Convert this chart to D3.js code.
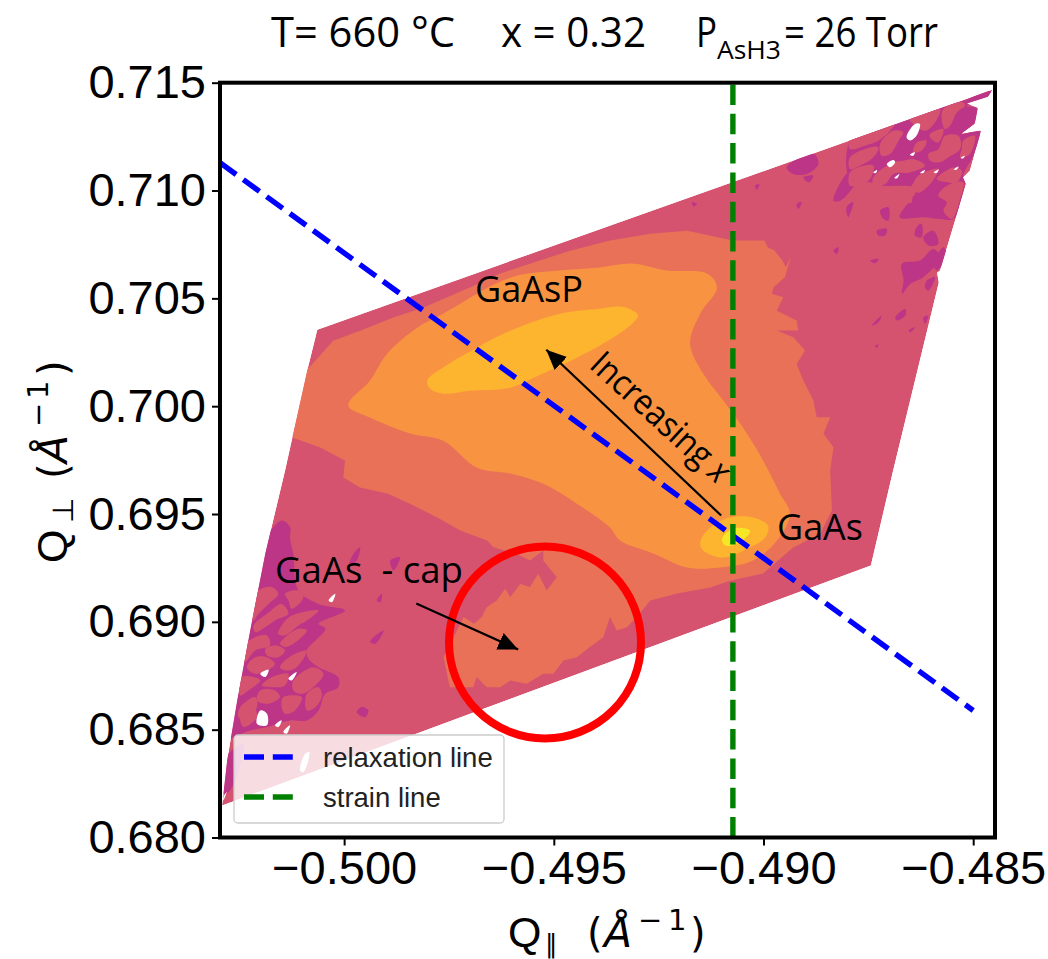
<!DOCTYPE html>
<html>
<head>
<meta charset="utf-8">
<script src="https://cdn.jsdelivr.net/npm/d3@7"></script>
<style>
  body { margin: 0; background: #fff; }
  text { white-space: pre; }
</style>
</head>
<body>
<div id="chart"></div>
<script>
// tick values
const xTicks = [-0.5, -0.495, -0.49, -0.485];
const yTicks = [0.68, 0.685, 0.69, 0.695, 0.7, 0.705, 0.71, 0.715];

// reference lines, [Q_par, Q_perp]
const relaxationLine = [[-0.50296, 0.71129], [-0.485, 0.68589]];
const strainLine = [[-0.49073, 0.68], [-0.49073, 0.715]];

// measured footprint of the map
const footprint = [[-0.50064,0.70355],[-0.48453,0.71468],[-0.48465,0.71435],[-0.48515,0.71403],[-0.48489,0.71384],[-0.48496,0.7131],[-0.48527,0.71264],[-0.48481,0.71278],[-0.48508,0.71092],[-0.48524,0.7106],[-0.48517,0.71032],[-0.48579,0.70629],[-0.48586,0.70619],[-0.48582,0.70573],[-0.48691,0.69701],[-0.48744,0.69261],[-0.50291,0.68148],[-0.50279,0.68357],[-0.50255,0.68635],[-0.50224,0.6896],[-0.50188,0.69317],[-0.50141,0.69701],[-0.50088,0.70165]];

// contour levels, low to high
const level2 = [[-0.50086,0.70174],[-0.50026,0.70304],[-0.49962,0.7035],[-0.49883,0.70411],[-0.49812,0.70457],[-0.497,0.7055],[-0.49628,0.70615],[-0.49557,0.70661],[-0.49461,0.70721],[-0.49366,0.70768],[-0.4927,0.708],[-0.49182,0.70814],[-0.49073,0.70768],[-0.49008,0.70768],[-0.48998,0.70768],[-0.4899,0.70737],[-0.48974,0.70722],[-0.48955,0.70675],[-0.48947,0.70644],[-0.48935,0.70691],[-0.48949,0.70598],[-0.48976,0.70552],[-0.4898,0.70521],[-0.48953,0.70505],[-0.48968,0.70443],[-0.48921,0.70397],[-0.48917,0.70351],[-0.48968,0.70351],[-0.48929,0.7032],[-0.48901,0.70258],[-0.48921,0.70196],[-0.48905,0.70119],[-0.48881,0.70026],[-0.48873,0.69949],[-0.48841,0.69949],[-0.48857,0.69872],[-0.48833,0.6981],[-0.48841,0.69702],[-0.48837,0.69516],[-0.48865,0.69409],[-0.4893,0.69344],[-0.49001,0.69224],[-0.4908,0.69191],[-0.49127,0.69159],[-0.49206,0.69131],[-0.4927,0.69099],[-0.49302,0.69022],[-0.49326,0.68975],[-0.4935,0.6896],[-0.49366,0.69022],[-0.49382,0.68929],[-0.49414,0.68883],[-0.49445,0.68836],[-0.49477,0.68821],[-0.49501,0.68759],[-0.49525,0.68759],[-0.49565,0.68713],[-0.49604,0.68728],[-0.49628,0.68697],[-0.4966,0.68697],[-0.49684,0.68744],[-0.49692,0.68697],[-0.49748,0.68697],[-0.49763,0.68836],[-0.49751,0.68883],[-0.49715,0.69022],[-0.4969,0.68991],[-0.49672,0.69022],[-0.4966,0.69068],[-0.49636,0.69099],[-0.49616,0.69153],[-0.49604,0.69114],[-0.4958,0.69176],[-0.49557,0.69161],[-0.49537,0.69223],[-0.49517,0.69145],[-0.49493,0.69207],[-0.49525,0.69284],[-0.49525,0.69331],[-0.49557,0.69284],[-0.49588,0.69315],[-0.49644,0.69346],[-0.49659,0.69377],[-0.49723,0.69423],[-0.49778,0.69484],[-0.49843,0.69548],[-0.49897,0.69595],[-0.49962,0.69623],[-0.50002,0.69669],[-0.49998,0.69748],[-0.50057,0.69808],[-0.50122,0.69854],[-0.50153,0.69887],[-0.50129,0.70142]];
const level3 = [[-0.4999,0.70003],[-0.49938,0.70119],[-0.49897,0.70244],[-0.49826,0.70364],[-0.49764,0.70429],[-0.49604,0.70596],[-0.49485,0.70629],[-0.4939,0.70643],[-0.49311,0.70661],[-0.4923,0.70629],[-0.49135,0.70615],[-0.49111,0.7055],[-0.49151,0.70429],[-0.49175,0.7029],[-0.49144,0.70151],[-0.49096,0.70026],[-0.49049,0.69901],[-0.49001,0.69748],[-0.48961,0.69595],[-0.48937,0.69502],[-0.48968,0.69377],[-0.49025,0.69284],[-0.49104,0.69252],[-0.49182,0.69252],[-0.49263,0.69317],[-0.49342,0.69377],[-0.49366,0.69437],[-0.49445,0.69548],[-0.49526,0.69641],[-0.49604,0.69688],[-0.49683,0.69715],[-0.49764,0.6984],[-0.49843,0.69873],[-0.49938,0.69947]];
const level4Upper = [[-0.49802,0.70119],[-0.49764,0.70179],[-0.49683,0.70272],[-0.49604,0.7035],[-0.49485,0.70429],[-0.4939,0.70452],[-0.49342,0.70462],[-0.49311,0.70443],[-0.49299,0.7042],[-0.49318,0.70374],[-0.4939,0.70281],[-0.49445,0.70225],[-0.49526,0.70151],[-0.49604,0.70086],[-0.497,0.70072],[-0.49764,0.70058],[-0.49795,0.70082]];
const level4Lower = [[-0.49151,0.69368],[-0.49127,0.69437],[-0.4908,0.69484],[-0.49025,0.69484],[-0.48989,0.69446],[-0.48996,0.69391],[-0.49039,0.6934],[-0.49096,0.69298],[-0.49144,0.69331]];
const level5 = [[-0.49099,0.69386],[-0.49073,0.69433],[-0.49032,0.69423],[-0.49044,0.69386],[-0.49073,0.69354],[-0.49094,0.69358]];

// low intensity speckle, bottom left
const lowLeft = [
  [[-0.50149,0.6947],[-0.50129,0.69439],[-0.50129,0.69385],[-0.50121,0.69315],[-0.50109,0.69145],[-0.50061,0.69083],[-0.49998,0.69053],[-0.50061,0.68991],[-0.50045,0.68968],[-0.50089,0.68867],[-0.50085,0.68829],[-0.50061,0.6879],[-0.50014,0.68743],[-0.50014,0.68697],[-0.50045,0.68666],[-0.50061,0.68589],[-0.50089,0.68543],[-0.50129,0.68543],[-0.50184,0.68512],[-0.50224,0.68496],[-0.50264,0.68465],[-0.5032,0.684],[-0.5032,0.69],[-0.5023,0.692],[-0.502,0.6935]],
  [[-0.50288,0.68357],[-0.5024,0.68435],[-0.50272,0.68218],[-0.50288,0.68203]],
  [[-0.49958,0.68605],[-0.49942,0.68589],[-0.4995,0.68558],[-0.4997,0.68581]],
  [[-0.4993,0.68929],[-0.49906,0.6896],[-0.49926,0.68898],[-0.49938,0.68906]],
  [[-0.4989,0.69284],[-0.49867,0.693],[-0.49882,0.69238]],
  [[-0.49922,0.69099],[-0.4991,0.6913],[-0.49913,0.69091]],
  [[-0.49978,0.69315],[-0.49962,0.69346],[-0.4997,0.69284],[-0.4999,0.69253]]
];

// low intensity speckle, top right
const lowRight = [
  [[-0.48794,0.71231],[-0.48746,0.71285],[-0.48682,0.71324],[-0.48627,0.71355],[-0.48571,0.71393],[-0.48524,0.71416],[-0.4846,0.71463],[-0.48456,0.7144],[-0.48484,0.71409],[-0.48516,0.71393],[-0.48488,0.71378],[-0.48496,0.71316],[-0.48527,0.71262],[-0.48484,0.71277],[-0.485,0.71161],[-0.48524,0.71069],[-0.4852,0.71038],[-0.48531,0.70945],[-0.48547,0.70868],[-0.48579,0.70868],[-0.48619,0.70876],[-0.48675,0.70876],[-0.48635,0.71007],[-0.48682,0.71022],[-0.48714,0.71022],[-0.48746,0.71038],[-0.48794,0.71053]],
  [[-0.48945,0.71108],[-0.48881,0.7117],[-0.48869,0.71123],[-0.48897,0.71077],[-0.48929,0.71077]],
  [[-0.48833,0.70953],[-0.48794,0.71092],[-0.4877,0.71077],[-0.48786,0.71015],[-0.48817,0.70953]],
  [[-0.48722,0.70907],[-0.48702,0.70922],[-0.48702,0.70861],[-0.48714,0.70868]],
  [[-0.48635,0.7083],[-0.48623,0.70845],[-0.48623,0.70783],[-0.48639,0.70791]],
  [[-0.4873,0.70814],[-0.48706,0.70822],[-0.4871,0.70791],[-0.48726,0.70791]],
  [[-0.48619,0.70783],[-0.48595,0.70814],[-0.48583,0.70752],[-0.48607,0.70745]],
  [[-0.4867,0.7066],[-0.48627,0.70675],[-0.48595,0.70729],[-0.48579,0.70691],[-0.48619,0.70598],[-0.4865,0.70567],[-0.4867,0.70521],[-0.48666,0.70582]],
  [[-0.48686,0.70412],[-0.48662,0.70451],[-0.48662,0.7042],[-0.48682,0.70397]],
  [[-0.48742,0.70374],[-0.48718,0.7042],[-0.48726,0.70389]],
  [[-0.48746,0.70675],[-0.48726,0.70683],[-0.48734,0.70663]],
  [[-0.48611,0.70582],[-0.48591,0.70598],[-0.48607,0.70536],[-0.48615,0.70552]],
  [[-0.48921,0.70938],[-0.48909,0.70946],[-0.48917,0.70915]],
  [[-0.48905,0.71061],[-0.48881,0.71069],[-0.48893,0.71038]],
  [[-0.4902,0.71023],[-0.4901,0.71028],[-0.49016,0.71003]],
  [[-0.49171,0.70946],[-0.49159,0.70938],[-0.49166,0.70926]],
  [[-0.48802,0.70922],[-0.48786,0.70946],[-0.48798,0.70876]],
  [[-0.48833,0.70722],[-0.48821,0.70737],[-0.48825,0.70706]],
  [[-0.48654,0.70351],[-0.48639,0.70366],[-0.4865,0.70343]],
  [[-0.48571,0.70737],[-0.48563,0.70698],[-0.48587,0.70629],[-0.48595,0.7066]],
  [[-0.48734,0.70281],[-0.48726,0.70286],[-0.4873,0.7027]],
  [[-0.48619,0.70412],[-0.48607,0.7042],[-0.48615,0.70382]]
];

// islands of the next level inside the low intensity areas
const islands = [
  [[-0.48794,0.71239],[-0.48738,0.71293],[-0.48686,0.71316],[-0.48698,0.71277],[-0.48726,0.71231],[-0.48758,0.71208],[-0.48794,0.71192]],
  [[-0.48722,0.71216],[-0.4869,0.71277],[-0.48667,0.7127],[-0.48678,0.71231],[-0.48698,0.71169],[-0.48718,0.71161]],
  [[-0.48794,0.71154],[-0.48746,0.712],[-0.48726,0.712],[-0.48738,0.71154],[-0.4877,0.71115],[-0.48794,0.711]],
  [[-0.48651,0.71331],[-0.48579,0.71378],[-0.48591,0.71316],[-0.48615,0.71277],[-0.48643,0.71308]],
  [[-0.48571,0.71378],[-0.48524,0.71409],[-0.4852,0.71393],[-0.48539,0.71362],[-0.48555,0.71301],[-0.48567,0.71285],[-0.48575,0.71331]],
  [[-0.48603,0.71262],[-0.48571,0.71285],[-0.48583,0.71223],[-0.48603,0.71246]],
  [[-0.48567,0.71254],[-0.48535,0.71254],[-0.48531,0.71192],[-0.48559,0.71154],[-0.48579,0.71131],[-0.48603,0.71138],[-0.48607,0.71169],[-0.48583,0.71192]],
  [[-0.48635,0.71223],[-0.48611,0.71231],[-0.48623,0.71185],[-0.48643,0.71177]],
  [[-0.48524,0.71231],[-0.48496,0.71254],[-0.48508,0.71169],[-0.48531,0.71154],[-0.48527,0.71192]],
  [[-0.48587,0.71053],[-0.48547,0.71107],[-0.48527,0.71092],[-0.48539,0.71038],[-0.48563,0.71038]],
  [[-0.48631,0.71069],[-0.48583,0.711],[-0.48599,0.71038],[-0.48627,0.70991],[-0.48643,0.70991],[-0.48647,0.70945],[-0.48667,0.70945],[-0.48675,0.70961],[-0.48647,0.71022]],
  [[-0.48563,0.71022],[-0.48524,0.71038],[-0.48531,0.70961],[-0.48551,0.70868],[-0.48571,0.70907],[-0.48563,0.70945],[-0.48583,0.70976]],
  [[-0.48794,0.71084],[-0.48762,0.71115],[-0.48738,0.71115],[-0.48746,0.71053],[-0.48778,0.71022],[-0.48794,0.71022]],
  [[-0.48738,0.71061],[-0.4869,0.71131],[-0.48667,0.71138],[-0.48643,0.71146],[-0.48615,0.71115],[-0.48651,0.71084],[-0.4869,0.71077],[-0.4871,0.7103],[-0.48738,0.71022]],
  [[-0.50204,0.69145],[-0.50173,0.69161],[-0.50157,0.6913],[-0.5018,0.69083],[-0.50204,0.69037],[-0.50216,0.69006],[-0.50228,0.69006],[-0.50216,0.69083]],
  [[-0.50141,0.6913],[-0.50109,0.69145],[-0.50097,0.69114],[-0.50125,0.6906],[-0.50133,0.69099]],
  [[-0.50184,0.69037],[-0.50149,0.69083],[-0.50133,0.69037],[-0.50165,0.69006],[-0.50188,0.68975],[-0.50212,0.68952],[-0.50216,0.68983]],
  [[-0.50125,0.69029],[-0.50061,0.69053],[-0.50089,0.69006],[-0.50109,0.68983],[-0.50141,0.68937],[-0.50157,0.68944],[-0.50149,0.68983]],
  [[-0.5024,0.68883],[-0.50212,0.68929],[-0.50184,0.68937],[-0.50177,0.6889],[-0.50212,0.68867],[-0.50232,0.68821],[-0.50244,0.68805]],
  [[-0.50145,0.68921],[-0.50109,0.68968],[-0.50089,0.6896],[-0.50121,0.68898],[-0.50141,0.68883],[-0.50153,0.68898]],
  [[-0.50188,0.68875],[-0.50161,0.6889],[-0.50141,0.68867],[-0.50157,0.68836],[-0.50184,0.68844]],
  [[-0.50212,0.68836],[-0.50184,0.68836],[-0.50165,0.68805],[-0.50184,0.68774],[-0.50212,0.68759],[-0.50232,0.6879]],
  [[-0.50141,0.68821],[-0.50109,0.68859],[-0.50089,0.68867],[-0.50113,0.6879],[-0.50137,0.68774],[-0.50153,0.6879]],
  [[-0.50244,0.68743],[-0.50216,0.68743],[-0.502,0.68728],[-0.50228,0.68682],[-0.50248,0.68659]],
  [[-0.50173,0.68743],[-0.50133,0.68759],[-0.50141,0.68705],[-0.50169,0.68697],[-0.50196,0.68705]],
  [[-0.50121,0.68728],[-0.50073,0.6879],[-0.50049,0.68759],[-0.50069,0.68705],[-0.50101,0.68666],[-0.50121,0.68682]],
  [[-0.502,0.68682],[-0.50165,0.68682],[-0.50153,0.68651],[-0.5018,0.6862],[-0.50208,0.68635]],
  [[-0.50145,0.68651],[-0.50101,0.68651],[-0.50117,0.68589],[-0.50141,0.68574],[-0.50149,0.68604]],
  [[-0.50248,0.68604],[-0.50212,0.68651],[-0.50208,0.68604],[-0.50236,0.68558],[-0.50252,0.68558]],
  [[-0.50089,0.68666],[-0.50061,0.68697],[-0.50053,0.68659],[-0.50069,0.68604],[-0.50089,0.68589]],
  [[-0.50248,0.68574],[-0.50216,0.68605],[-0.50208,0.68558],[-0.5024,0.68512]]
];

// holes with no counts
const holes = [
  [[-0.50037,0.69099],[-0.50021,0.6913],[-0.50029,0.69091]],
  [[-0.502,0.68759],[-0.5018,0.68778],[-0.50188,0.68744]],
  [[-0.50133,0.68736],[-0.50113,0.68767],[-0.50125,0.68728]],
  [[-0.50208,0.68527],[-0.502,0.68589],[-0.50184,0.68574],[-0.50184,0.6852]],
  [[-0.50165,0.6852],[-0.50149,0.68543],[-0.50157,0.68512]],
  [[-0.50145,0.68489],[-0.50129,0.6852],[-0.50137,0.68481]],
  [[-0.50105,0.68311],[-0.50093,0.68388],[-0.50083,0.68396],[-0.50097,0.68303]],
  [[-0.50288,0.68187],[-0.5028,0.68211],[-0.50288,0.68172]],
  [[-0.48659,0.71247],[-0.48639,0.71309],[-0.48627,0.71309],[-0.48635,0.71255],[-0.4865,0.71232]],
  [[-0.48706,0.71123],[-0.4869,0.71142],[-0.48686,0.71131],[-0.48698,0.71108]],
  [[-0.48651,0.71166],[-0.48639,0.71177],[-0.48643,0.71161]],
  [[-0.48738,0.71084],[-0.48729,0.71095],[-0.48732,0.71081]],
  [[-0.48688,0.71058],[-0.48676,0.71077],[-0.48682,0.71056]],
  [[-0.48627,0.71081],[-0.48615,0.71095],[-0.48619,0.71081]],
  [[-0.48594,0.71084],[-0.48582,0.71097],[-0.48587,0.71081]],
  [[-0.48547,0.71097],[-0.48535,0.71111],[-0.48539,0.71097]],
  [[-0.4853,0.71151],[-0.4852,0.71161],[-0.48524,0.71149]]
];

// annotations
const composition = [[-0.49101, 0.69493], [-0.49518, 0.70262]];
const capPointer = [[-0.49828, 0.69085], [-0.49585, 0.68872]];
const capCircle = [-0.49521, 0.68904];

const width = 1048, height = 959;
const margin = { top: 82.7, right: 53, bottom: 121.5, left: 220 };

const colors = {
  low: "#BC3587", level1: "#D5536F", level2: "#E97158",
  level3: "#F89441", level4: "#FDB42F", level5: "#F5E626"
};

const svg = d3
  .select("#chart")
  .append("svg")
  .attr("width", width)
  .attr("height", height)
  .style("display", "block")
  .style("background", "#fff");

const x = d3.scaleLinear().domain([-0.50296, -0.48448]).range([margin.left, width - margin.right]);
const y = d3.scaleLinear().domain([0.68, 0.715]).range([height - margin.bottom, margin.top]);

const line = d3.line().x(d => x(d[0])).y(d => y(d[1]));
const closed = d3.line().x(d => x(d[0])).y(d => y(d[1])).curve(d3.curveLinearClosed);
const smooth = d3.line().x(d => x(d[0])).y(d => y(d[1])).curve(d3.curveCatmullRomClosed.alpha(0.5));

const defs = svg.append("defs");
defs.append("clipPath").attr("id", "map-clip").append("path").attr("d", closed(footprint));
defs.append("clipPath").attr("id", "axes-clip").append("rect")
  .attr("x", margin.left).attr("y", margin.top)
  .attr("width", width - margin.left - margin.right)
  .attr("height", height - margin.top - margin.bottom);
defs.append("marker")
  .attr("id", "head")
  .attr("markerUnits", "userSpaceOnUse")
  .attr("markerWidth", 22).attr("markerHeight", 20)
  .attr("refX", 20).attr("refY", 9)
  .attr("orient", "auto")
  .append("path").attr("d", "M0,0L20,9L0,18Z").attr("fill", "#000");

// map
const map = svg.append("g").attr("clip-path", "url(#map-clip)");
map.append("path").attr("d", closed(footprint)).attr("fill", colors.level1);
map.selectAll(".low").data(lowLeft.concat(lowRight)).enter().append("path")
  .attr("class", "low").attr("d", smooth).attr("fill", colors.low);
map.selectAll(".island").data(islands).enter().append("path")
  .attr("class", "island").attr("d", smooth).attr("fill", colors.level1);
map.append("path").attr("d", closed(level2)).attr("fill", colors.level2);
map.append("path").attr("d", smooth(level3)).attr("fill", colors.level3);
map.append("path").attr("d", smooth(level4Upper)).attr("fill", colors.level4);
map.append("path").attr("d", smooth(level4Lower)).attr("fill", colors.level4);
map.append("path").attr("d", smooth(level5)).attr("fill", colors.level5);
map.selectAll(".hole").data(holes).enter().append("path")
  .attr("class", "hole").attr("d", smooth).attr("fill", "#fff");

// reference lines
const lines = svg.append("g").attr("clip-path", "url(#axes-clip)").attr("fill", "none");
lines.append("path").attr("d", line(relaxationLine))
  .attr("stroke", "#0000FF").attr("stroke-width", 5.4).attr("stroke-dasharray", "20,8.8");
lines.append("path").attr("d", line(strainLine))
  .attr("stroke", "#008000").attr("stroke-width", 5.4).attr("stroke-dasharray", "20.5,8.8");

// axes
const xAxis = d3.axisBottom(x).tickValues(xTicks).tickFormat(d3.format(".3f")).tickSize(8).tickPadding(5);
const yAxis = d3.axisLeft(y).tickValues(yTicks).tickFormat(d3.format(".3f")).tickSize(8).tickPadding(6);
const gx = svg.append("g").attr("transform", `translate(0,${height - margin.bottom})`).call(xAxis);
const gy = svg.append("g").attr("transform", `translate(${margin.left},0)`).call(yAxis);
[gx, gy].forEach(g => {
  g.select(".domain").remove();
  g.selectAll("line").attr("stroke", "#000").attr("stroke-width", 2);
  g.selectAll("text").attr("fill", "#000").style("font", "47px 'Liberation Sans'");
});

svg.append("rect")
  .attr("x", margin.left).attr("y", margin.top)
  .attr("width", width - margin.left - margin.right)
  .attr("height", height - margin.top - margin.bottom)
  .attr("fill", "none").attr("stroke", "#000").attr("stroke-width", 4);

// axis labels, built from pieces since the math text mixes fonts
const sans = "'Liberation Sans'", dejavu = "'DejaVu Sans'";
function axisLabel(g, pieces) {
  pieces.forEach(p => {
    g.append("text")
      .attr("x", p.at).attr("y", p.dy || 0)
      .attr("font-family", p.font).attr("font-size", p.size)
      .attr("font-style", p.italic ? "italic" : "normal")
      .attr("fill", "#000")
      .text(p.text);
  });
}
axisLabel(svg.append("g").attr("transform", "translate(508,947)"), [
  { text: "Q", at: 0, font: sans, size: 43 },
  { text: "\u2225", at: 37, dy: 6, font: dejavu, size: 26 },
  { text: "(", at: 79, font: dejavu, size: 40 },
  { text: "\u00C5", at: 96, font: dejavu, size: 41, italic: true },
  { text: "\u2212", at: 130, dy: -17, font: dejavu, size: 29 },
  { text: "1", at: 160, dy: -17, font: dejavu, size: 29 },
  { text: ")", at: 182, font: dejavu, size: 40 }
]);
axisLabel(svg.append("g").attr("transform", "translate(67,563) rotate(-90)"), [
  { text: "Q", at: 0, font: sans, size: 43 },
  { text: "\u22A5", at: 40, dy: 6, font: dejavu, size: 29 },
  { text: "(", at: 84, font: dejavu, size: 40 },
  { text: "\u00C5", at: 100, font: dejavu, size: 41, italic: true },
  { text: "\u2212", at: 136, dy: -19, font: dejavu, size: 29 },
  { text: "1", at: 164, dy: -19, font: dejavu, size: 29 },
  { text: ")", at: 187, font: dejavu, size: 40 }
]);

// legend
const legend = svg.append("g");
legend.append("rect")
  .attr("x", 234).attr("y", 735).attr("width", 270).attr("height", 88).attr("rx", 4)
  .attr("fill", "#fff").attr("fill-opacity", 0.8).attr("stroke", "#ccc").attr("stroke-width", 1.3);
[["relaxation line", "#0000FF", 757], ["strain line", "#008000", 797]].forEach(([label, color, ly]) => {
  legend.append("line").attr("x1", 244).attr("x2", 294).attr("y1", ly).attr("y2", ly)
    .attr("stroke", color).attr("stroke-width", 5.4).attr("stroke-dasharray", "20,8.8");
  legend.append("text").attr("x", 323).attr("y", ly + 10)
    .attr("font-family", sans).attr("font-size", 27.5).attr("fill", "#222").text(label);
});

// slide annotations on top of the plot
function note(label, tx, ty, size, len) {
  return svg.append("text").attr("x", tx).attr("y", ty)
    .attr("font-family", "'Open Sans'").attr("font-size", size)
    .attr("textLength", len).attr("lengthAdjust", "spacingAndGlyphs")
    .attr("fill", "#000").text(label);
}

svg.append("circle")
  .attr("cx", x(capCircle[0])).attr("cy", y(capCircle[1])).attr("r", 96)
  .attr("fill", "none").attr("stroke", "#FF0000").attr("stroke-width", 8);

[composition, capPointer].forEach(a => {
  svg.append("path").attr("d", line(a))
    .attr("stroke", "#000").attr("stroke-width", 2.2).attr("fill", "none")
    .attr("marker-end", "url(#head)");
});

note("GaAsP", 475, 302, 37, 108);
note("GaAs", 777, 540, 37, 86);
note("GaAs  - cap", 275, 583, 37, 188);

const inc = svg.append("text")
  .attr("transform", "translate(588,367) rotate(42.4)")
  .attr("font-family", "'Open Sans'").attr("font-size", 35)
  .attr("textLength", 175).attr("lengthAdjust", "spacingAndGlyphs").attr("fill", "#000");
inc.append("tspan").text("Increasing ");
inc.append("tspan").attr("font-style", "italic").text("x");

// title
note("T= 660 \u00B0C", 271, 47, 42, 184);
note("x = 0.32", 501, 47, 42, 145);
note("P", 696, 47, 42, 21);
note("AsH3", 717, 59, 26, 64);
note("= 26 Torr", 784, 47, 42, 154);
</script>
</body>
</html>
